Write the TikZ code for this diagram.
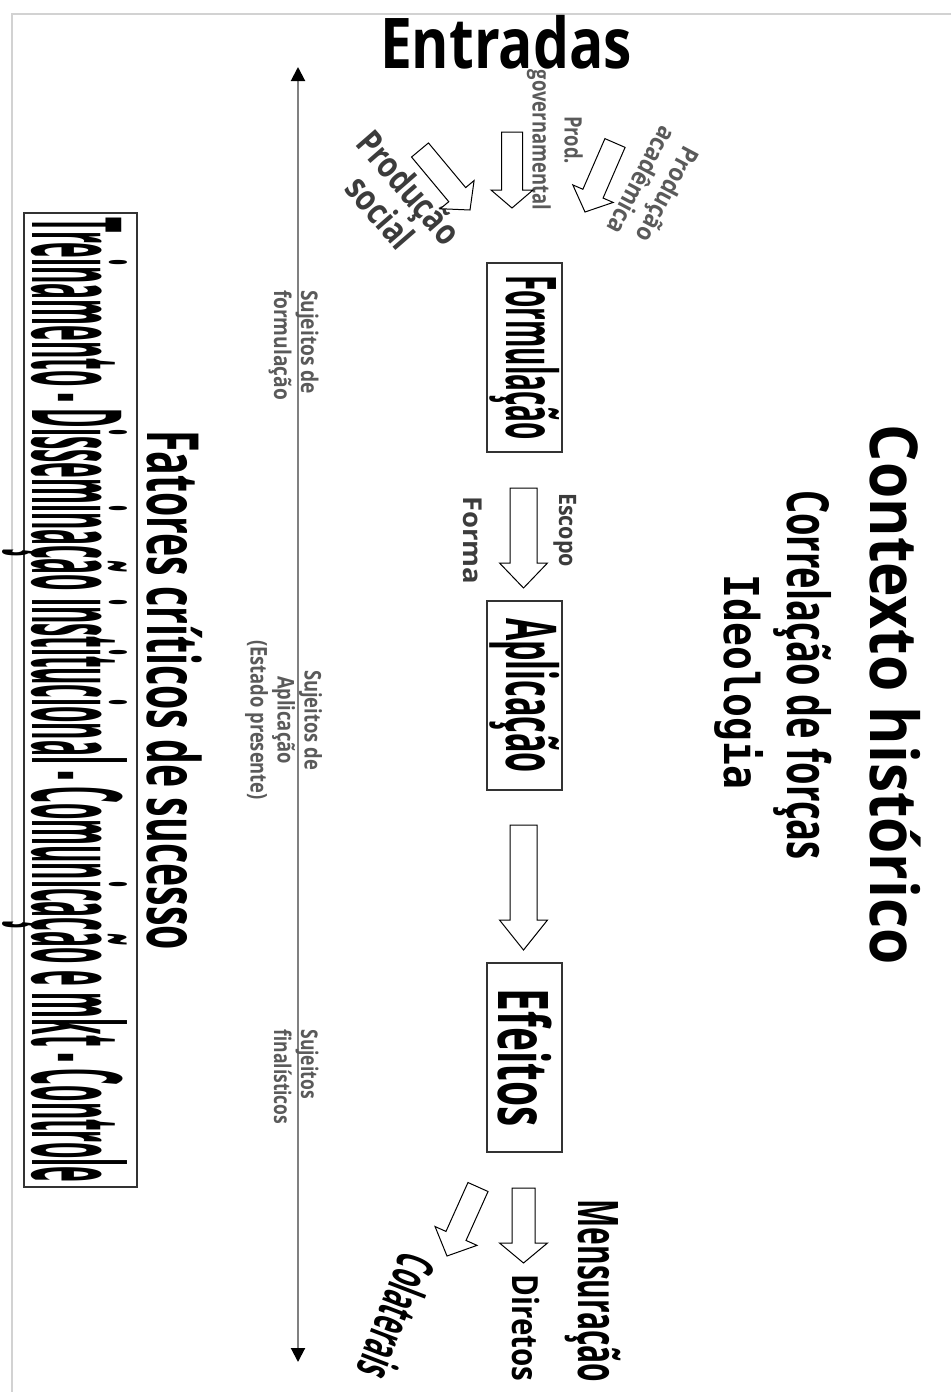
\documentclass[tikz,border=0pt]{standalone}
\usepackage{fontspec}
\setmainfont{Open Sans}
\newfontfamily\monob{DejaVu Sans Mono}
\usetikzlibrary{calc,arrows.meta}
\newcommand{\fitto}[2]{\resizebox{#1}{\height}{#2}}
\newcommand{\fsz}[1]{\fontsize{#1}{#1}\selectfont}
\definecolor{lblgray}{RGB}{90,90,90}
\definecolor{darkgray}{RGB}{60,60,60}
\definecolor{framegray}{RGB}{210,210,210}
\newcommand{\blockarrow}[5]{%
  \draw[blockarr] ($(#1)!#3!90:(#2)$) -- ($(#2)!#5!(#1)!#3!90:(#2)$) -- ($(#2)!#5!(#1)!#4!90:(#2)$) -- (#2)
   -- ($(#2)!#5!(#1)!#4!-90:(#2)$) -- ($(#2)!#5!(#1)!#3!-90:(#2)$) -- ($(#1)!#3!-90:(#2)$) -- cycle;}
\begin{document}
\begin{tikzpicture}[x=1pt,y=-1pt,
  every node/.style={inner sep=0pt, outer sep=0pt},
  blockarr/.style={draw=black, line width=1pt, fill=white, line join=miter},
  stagebox/.style={draw=black!80, line width=1.3pt, rotate=-90, minimum width=189pt, minimum height=75pt, font={\fsz{70}\bfseries}},
  vlbl/.style={rotate=-90, anchor=base},
  small/.style={text=lblgray, font={\fontsize{23}{27}\selectfont\bfseries}},
  axis/.style={draw=gray, line width=2pt, {Triangle[width=14pt,length=14pt,color=black]}-{Triangle[width=14pt,length=14pt,color=black]}}
]
\path[use as bounding box] (0,0) rectangle (951,1392);
\fill[white] (0,0) rectangle (951,1392);
\draw[framegray, line width=2pt] (951,14) -- (12,14) -- (12,1392);

% title
\node[anchor=base, font={\fsz{70}\bfseries}] (entradas) at (506,68) {\fitto{252pt}{Entradas}};

% inputs
\node[rotate=-49, text=darkgray, font={\fontsize{36}{36}\selectfont\bfseries}] (social) at (391,203)
  {\fitto{137pt}{\begin{tabular}{@{}c@{}}Produção\\social\end{tabular}}};
\node[rotate=-90, text=lblgray, font={\fontsize{24}{32}\selectfont\bfseries}] (gov) at (555,140)
  {\fitto{140pt}{\begin{tabular}{@{}c@{}}Prod.\\governamental\end{tabular}}};
\node[rotate=-118, text=lblgray, font={\fontsize{25}{30}\selectfont\bfseries}] (acad) at (652,186)
  {\fitto{118pt}{\begin{tabular}{@{}c@{}}Produção\\acadêmica\end{tabular}}};

\coordinate (a5s) at (420,150); \coordinate (a5t) at (470,210);
\coordinate (a6s) at (512,132); \coordinate (a6t) at (512,208);
\coordinate (a7s) at (615,143); \coordinate (a7t) at (585,212);
\blockarrow{a5s}{a5t}{11pt}{22pt}{20pt}
\blockarrow{a6s}{a6t}{10.5pt}{21pt}{18pt}
\blockarrow{a7s}{a7t}{11pt}{22pt}{20pt}

% stages
\node[stagebox] (form) at (524.5,357.5) {\fitto{165pt}{Formulação}};
\node[stagebox] (apl) at (524.5,695.5) {\fitto{155pt}{Aplicação}};
\node[stagebox] (efe) at (524.5,1057.5) {\fitto{138pt}{Efeitos}};

\coordinate (a1s) at (523.5,488); \coordinate (a1t) at (523.5,588);
\coordinate (a2s) at (523.5,825); \coordinate (a2t) at (523.5,950);
\blockarrow{a1s}{a1t}{13.5pt}{24pt}{25pt}
\blockarrow{a2s}{a2t}{13.5pt}{24pt}{30pt}

\node[vlbl, text=darkgray, font={\fsz{24}\bfseries}] (escopo) at (559,530) {\fitto{74pt}{Escopo}};
\node[vlbl, text=darkgray, font={\fsz{26}\bfseries}] (forma) at (463,540) {\fitto{88pt}{Forma}};

% outputs
\coordinate (a3s) at (523.5,1188); \coordinate (a3t) at (523.5,1263);
\coordinate (a4s) at (478,1187); \coordinate (a4t) at (447,1256);
\blockarrow{a3s}{a3t}{11.5pt}{24pt}{20pt}
\blockarrow{a4s}{a4t}{11pt}{23pt}{22pt}
\node[vlbl, font={\fsz{56}\bfseries}] (mens) at (578,1291) {\fitto{183pt}{Mensuração}};
\node[vlbl, font={\fsz{36}\bfseries}] (dir) at (512,1328) {\fitto{107pt}{Diretos}};
\node[rotate=-111, font={\fsz{52}\bfseries}] (col) at (397,1317) {\fitto{129pt}{Colaterais}};

% context
\node[vlbl, font={\fsz{66}\bfseries}] (ctx) at (870,695) {\fitto{540pt}{Contexto histórico}};
\node[vlbl, font={\fsz{58}\bfseries}] (corr) at (787,675) {\fitto{370pt}{Correlação de forças}};
\node[vlbl, font={\monob\fsz{48}\bfseries}] (ideo) at (724,682) {\fitto{215pt}{Ideologia}};

% axis
\coordinate (vt) at (298,67); \coordinate (vb) at (298,1362);
\draw[axis] (vt) -- (vb);
\node[small, rotate=-90] (suj1) at (293,345) {\fitto{110pt}{\begin{tabular}{@{}l@{}}Sujeitos de\\formulação\end{tabular}}};
\node[small, rotate=-90] (suj2) at (283,720) {\fitto{160pt}{\begin{tabular}{@{}c@{}}Sujeitos de\\Aplicação\\(Estado presente)\end{tabular}}};
\node[small, rotate=-90] (suj3) at (293,1077) {\fitto{95pt}{\begin{tabular}{@{}l@{}}Sujeitos\\finalísticos\end{tabular}}};

% critical factors
\node[vlbl, font={\fsz{72}\bfseries}] (fat) at (147,690) {\fitto{520pt}{Fatores críticos de sucesso}};
\node[draw=black!80, line width=1.3pt, rotate=-90, minimum width=974pt, minimum height=113pt] (cbox) at (80.5,700) {};
\node[vlbl, font={\fsz{125}\bfseries}] (ctext) at (32,700) {\fitto{965pt}{Treinamento - Disseminação institucional - Comunicação e mkt - Controle}};
\end{tikzpicture}
\end{document}
